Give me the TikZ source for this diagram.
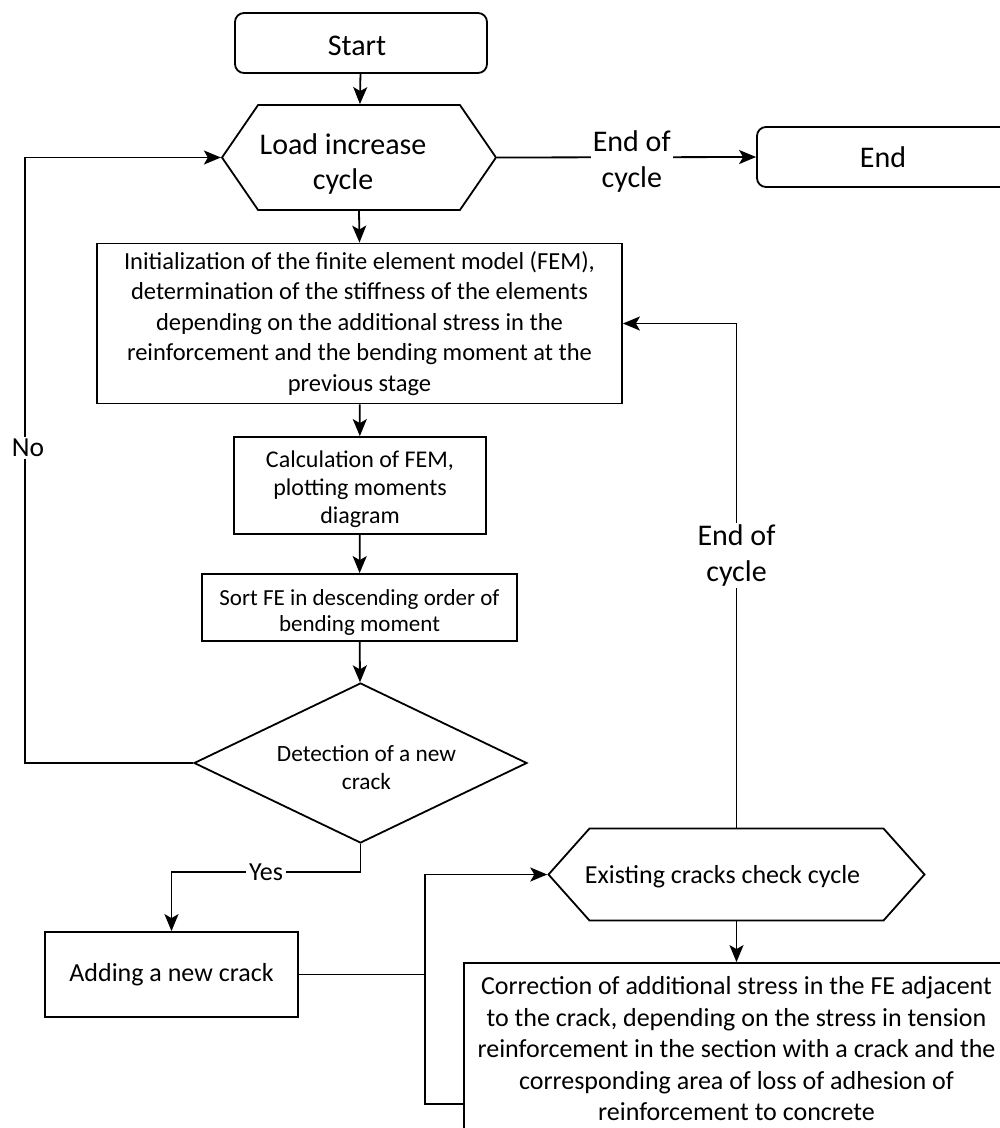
\documentclass[tikz,border=0pt]{standalone}
\usepackage{fontspec}
\setmainfont{Carlito}
\usetikzlibrary{arrows.meta,shapes.symbols,shapes.geometric,calc}
\begin{document}
\begin{tikzpicture}[x=1pt,y=-1pt,
  line width=1.8pt,
  >={Stealth[length=17pt,width=14pt,inset=4pt]},
  box/.style={draw, rectangle, align=center, inner sep=0pt, font=\fontsize{24.5}{30.5}\selectfont},
  rbox/.style={draw, rectangle, rounded corners=9pt, inner sep=0pt, font=\fontsize{30}{36}\selectfont},
  hexa/.style={draw, signal, signal to=west and east, align=center, inner sep=0pt},
  lbl/.style={fill=white, inner sep=2pt, align=center, font=\fontsize{30}{36}\selectfont}
]
\useasboundingbox (0,0) rectangle (1000,1128);
\clip (0,0) rectangle (1000,1128);

\node[rbox, minimum width=252pt, minimum height=60pt,
      label={[font=\fontsize{30}{36}\selectfont, xshift=-4pt, yshift=-3pt]center:Start}] (start) at (361,43) {};
\node[hexa, minimum width=274pt, minimum height=105pt, signal pointer angle=111,
      label={[align=center, font=\fontsize{30}{35}\selectfont, xshift=-16pt, yshift=-6pt]center:Load increase\\cycle}]
      (load) at (359,157.5) {};
\node[rbox, minimum width=252pt, minimum height=60pt] (end) at (883,157) {End};
\node[box, minimum width=525pt, minimum height=160pt] (fem) at (359.5,323.5)
  {Initialization of the finite element model (FEM),\\
   determination of the stiffness of the elements\\
   depending on the additional stress in the\\
   reinforcement and the bending moment at the\\
   previous stage};
\node[box, minimum width=252pt, minimum height=97pt,
      label={[align=center, font=\fontsize{24}{28}\selectfont, yshift=-4pt]center:Calculation of FEM,\\plotting moments\\diagram}]
      (calc) at (360,485.5) {};
\node[box, minimum width=315pt, minimum height=67pt,
      label={[align=center, font=\fontsize{23}{26.5}\selectfont, yshift=-5pt]center:Sort FE in descending order of\\bending moment}]
      (sort) at (359.5,607.5) {};
\node[draw, diamond, minimum width=333pt, minimum height=160pt, inner sep=0pt,
      label={[align=center, font=\fontsize{23.3}{28}\selectfont, xshift=6pt, yshift=-5pt]center:Detection of a new\\crack}]
      (det) at (360.5,763) {};
\node[box, minimum width=253pt, minimum height=85pt, font=\fontsize{26}{30}\selectfont] (add) at (171.5,974.5)
  {Adding a new crack};
\node[hexa, minimum width=376pt, minimum height=92pt, signal pointer angle=96.6,
      label={[font=\fontsize{26}{30}\selectfont, xshift=-14pt, yshift=-2pt]center:Existing cracks check cycle}]
      (chk) at (736.5,874.5) {};
\node[box, minimum width=545pt, minimum height=172pt, font=\fontsize{26}{31.5}\selectfont] (corr) at (736.5,1049)
  {Correction of additional stress in the FE adjacent\\
   to the crack, depending on the stress in tension\\
   reinforcement in the section with a crack and the\\
   corresponding area of loss of adhesion of\\
   reinforcement to concrete};

\coordinate (noturn) at (25,763);
\coordinate (jbot) at (425,1104);

\draw[->] (start) -- (load);
\draw[->] (load.east) -- node[lbl, pos=0.52, yshift=-4pt]{End of\\cycle} (end.west);
\draw[->] (load.south) -- (fem.north);
\draw[->] (fem) -- (calc);
\draw[->] (calc) -- (sort);
\draw[->] (sort) -- (det);
\draw[->] (det.west) -- (noturn) |- node[lbl, pos=0.26, xshift=3pt, font=\fontsize{27.5}{30}\selectfont]{No} (load.west);
\draw[->] (det.south) -- (det.south |- 0,872) -| node[lbl, pos=0.25, inner sep=3pt, font=\fontsize{26}{30}\selectfont]{Yes} (add.north);
\draw (add.east) -- (add.east -| jbot);
\draw[->] (corr.west |- jbot) -- (jbot) -- (jbot |- chk.west) -- (chk.west);
\draw[->] (chk.south) -- (chk.south |- corr.north);
\draw[->] (chk.north) |- node[lbl, pos=0.27]{End of\\cycle} (fem.east);
\end{tikzpicture}
\end{document}
